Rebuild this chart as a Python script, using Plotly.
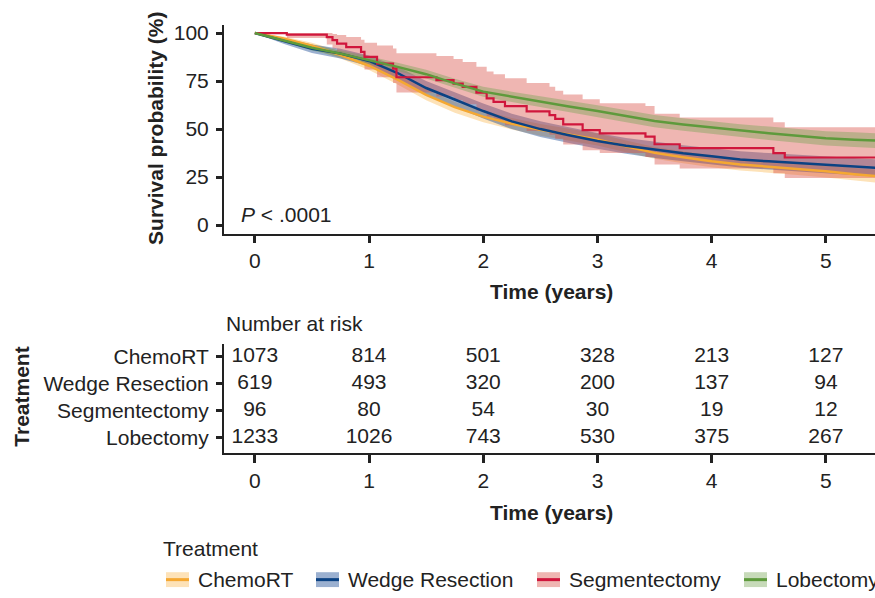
import plotly.graph_objects as go

# ---- survival estimates (%), read at quarter-year times ----
t_grid = [0, 0.25, 0.5, 0.75, 1, 1.25, 1.5, 1.75, 2, 2.25, 2.5, 2.75, 3,
          3.25, 3.5, 3.75, 4, 4.25, 4.5, 4.75, 5, 5.25, 5.5]

chemo_surv = [100, 97.2, 93.4, 88.6, 83.0, 75.8, 67.8, 61.4, 56.5, 52.8, 49.6, 47.2,
              44.6, 41.0, 37.6, 35.3, 33.2, 31.6, 30.5, 29.2, 28.0, 26.5, 25.2]
chemo_upper = [100, 98.2, 94.9, 90.5, 85.2, 78.4, 70.6, 64.3, 59.5, 55.8, 52.7, 50.3,
               47.7, 44.1, 40.7, 38.4, 36.3, 34.7, 33.6, 32.3, 31.2, 29.8, 28.6]
chemo_lower = [100, 96.2, 91.9, 86.7, 80.8, 73.2, 65.0, 58.5, 53.5, 49.8, 46.5, 44.1,
               41.5, 37.9, 34.5, 32.2, 30.1, 28.5, 27.4, 26.1, 24.8, 23.2, 21.8]

wedge_surv = [100, 96.0, 91.8, 89.3, 85.5, 79.2, 71.4, 65.4, 59.4, 54.0, 50.0, 46.8,
              43.8, 41.3, 39.2, 37.4, 35.8, 34.2, 33.2, 32.3, 31.4, 30.4, 29.6]
wedge_upper = [100, 97.5, 94.0, 91.8, 88.3, 82.4, 75.0, 69.2, 63.3, 58.0, 54.1, 50.9,
               47.9, 45.4, 43.4, 41.6, 40.0, 38.4, 37.5, 36.6, 35.7, 34.8, 34.1]
wedge_lower = [100, 94.5, 89.6, 86.8, 82.7, 76.0, 67.8, 61.6, 55.5, 50.0, 45.9, 42.7,
               39.7, 37.2, 35.0, 33.2, 31.6, 30.0, 28.9, 28.0, 27.1, 26.0, 25.1]

lobe_surv = [100, 96.3, 92.4, 89.3, 86.0, 82.4, 78.6, 73.8, 69.5, 66.8, 64.2, 61.8,
             59.4, 56.8, 54.2, 52.4, 50.8, 49.1, 47.8, 46.5, 45.2, 44.5, 43.8]
lobe_upper = [100, 97.3, 93.9, 91.0, 87.9, 84.5, 80.9, 76.2, 72.1, 69.5, 67.0, 64.7,
              62.4, 59.9, 57.4, 55.7, 54.1, 52.5, 51.3, 50.1, 48.9, 48.3, 47.7]
lobe_lower = [100, 95.3, 90.9, 87.6, 84.1, 80.3, 76.3, 71.4, 66.9, 64.1, 61.4, 58.9,
              56.4, 53.7, 51.0, 49.1, 47.5, 45.7, 44.3, 42.9, 41.5, 40.7, 39.9]

# Segmentectomy is a small group: its event times are drawn as steps
seg_time = [0, 0.28, 0.63, 0.68, 0.72, 0.80, 0.93, 0.96, 1.07, 1.21, 1.24, 1.59, 1.74,
            1.82, 1.94, 2.03, 2.09, 2.19, 2.38, 2.58, 2.63, 2.70, 2.87, 3.02, 3.42,
            3.50, 3.72, 4.54, 4.64, 5.5]
seg_surv = [100, 99.2, 97.9, 96.3, 94.5, 92.7, 90.2, 87.6, 84.1, 81.5, 77.0, 75.5, 73.7,
            72.0, 69.0, 66.0, 64.2, 62.0, 59.2, 57.3, 55.3, 52.5, 49.5, 47.8, 46.1,
            42.1, 40.1, 37.5, 35.2, 35.2]
seg_upper = [100, 100, 100, 99.5, 99.0, 98.0, 96.5, 95.0, 93.5, 92.0, 89.5, 88.0, 86.5,
             85.0, 82.5, 80.0, 78.5, 76.5, 74.0, 72.0, 70.0, 68.0, 65.5, 63.5, 62.0,
             58.0, 56.0, 53.5, 51.0, 51.0]
seg_lower = [100, 97.5, 94.0, 92.0, 89.5, 87.0, 84.0, 81.0, 77.0, 74.0, 69.0, 67.0, 65.0,
             63.0, 59.5, 56.5, 54.5, 52.0, 49.0, 47.0, 45.0, 42.0, 39.0, 37.5, 35.5,
             31.5, 29.5, 27.0, 24.5, 24.5]

# ---- number at risk ----
groups = ["ChemoRT", "Wedge Resection", "Segmentectomy", "Lobectomy"]
risk_times = [0, 1, 2, 3, 4, 5]
risk_chemo = [1073, 814, 501, 328, 213, 127]
risk_wedge = [619, 493, 320, 200, 137, 94]
risk_seg = [96, 80, 54, 30, 19, 12]
risk_lobe = [1233, 1026, 743, 530, 375, 267]

line_colors = ["#F5A832", "#0B4283", "#D0163C", "#5E9A3C"]
band_colors = ["rgba(250,182,77,0.4)", "rgba(5,58,138,0.4)",
               "rgba(215,72,62,0.4)", "rgba(115,162,80,0.4)"]
legend_fill = ["#FDE2B8", "#9BB0D0", "#EFB6B2", "#C7DAB9"]

FONT = "Liberation Sans, Arial, Helvetica, sans-serif"
FS = 21
INK = "#222222"
W, H = 875, 598


def px(x):
    return x / W


def py(y):
    return (H - y) / H


series = [
    (t_grid, chemo_surv, chemo_upper, chemo_lower, "linear"),
    (t_grid, wedge_surv, wedge_upper, wedge_lower, "linear"),
    (seg_time, seg_surv, seg_upper, seg_lower, "hv"),
    (t_grid, lobe_surv, lobe_upper, lobe_lower, "linear"),
]

fig = go.Figure()

# confidence bands
for i, (t, s, up, lo, shape) in enumerate(series):
    fig.add_trace(go.Scatter(x=t, y=up, mode="lines", line=dict(width=0, shape=shape),
                             showlegend=False, hoverinfo="skip", xaxis="x", yaxis="y"))
    fig.add_trace(go.Scatter(x=t, y=lo, mode="lines", line=dict(width=0, shape=shape),
                             fill="tonexty", fillcolor=band_colors[i],
                             showlegend=False, hoverinfo="skip", xaxis="x", yaxis="y"))

# survival curves
for i, (t, s, up, lo, shape) in enumerate(series):
    fig.add_trace(go.Scatter(x=t, y=s, mode="lines", name=groups[i],
                             line=dict(color=line_colors[i], width=2.5 if i != 2 else 2.2,
                                       shape=shape),
                             showlegend=False, xaxis="x", yaxis="y"))

# risk table
risk_rows = [risk_chemo, risk_wedge, risk_seg, risk_lobe]
for r, vals in enumerate(risk_rows):
    fig.add_trace(go.Scatter(x=risk_times, y=[r] * len(risk_times), mode="text",
                             text=[str(v) for v in vals], textposition="middle center",
                             textfont=dict(family=FONT, size=FS, color=INK),
                             showlegend=False, hoverinfo="skip", xaxis="x2", yaxis="y2"))

axis_common = dict(showline=True, linecolor=INK, linewidth=2, ticks="outside",
                   tickcolor=INK, tickwidth=2.5, showgrid=False, zeroline=False,
                   tickfont=dict(family=FONT, size=FS, color=INK))

x_dom = [px(224), 1.0]
x_range = [-0.27, 5.43]

fig.update_layout(
    width=W, height=H,
    margin=dict(l=0, r=0, t=0, b=0),
    paper_bgcolor="white", plot_bgcolor="white",
    font=dict(family=FONT, color=INK),
    xaxis=dict(domain=x_dom, range=x_range, tickvals=risk_times, ticklen=7,
               anchor="y", **axis_common),
    yaxis=dict(domain=[py(233), py(22)], range=[-4.66, 104.3],
               tickvals=[0, 25, 50, 75, 100], ticklen=6, ticklabelstandoff=3,
               anchor="x", **axis_common),
    xaxis2=dict(domain=x_dom, range=x_range, tickvals=risk_times, ticklen=8,
                anchor="y2", **axis_common),
    yaxis2=dict(domain=[py(454), py(344)], range=[3.59, -0.48],
                tickvals=[0, 1, 2, 3], ticktext=groups, ticklen=6,
                ticklabelstandoff=3, anchor="x2", **axis_common),
)

ann = []


def label(text, x, y, xanchor="center", size=FS, angle=0):
    ann.append(dict(text=text, x=px(x), y=py(y), xref="paper", yref="paper",
                    xanchor=xanchor, yanchor="middle", showarrow=False, textangle=angle,
                    font=dict(family=FONT, size=size, color=INK)))


label("<b>Survival probability (%)</b>", 156, 127, angle=-90)
label("<b>Time (years)</b>", 551, 291)
label("<i>P</i> < .0001", 239, 213, xanchor="left")
label("Number at risk", 224, 323, xanchor="left")
label("<b>Treatment</b>", 22, 397, angle=-90)
label("<b>Time (years)</b>", 551, 514)
label("Treatment", 161, 550, xanchor="left")

# legend: band swatch with the curve colour across the middle
legend_sym_x = [166, 316, 537, 744]
legend_txt_x = [196, 346, 567, 774]
shapes = []
for i in range(4):
    x0, x1 = legend_sym_x[i], legend_sym_x[i] + 23
    shapes.append(dict(type="rect", xref="paper", yref="paper",
                       x0=px(x0), x1=px(x1), y0=py(589), y1=py(574),
                       fillcolor=legend_fill[i], line=dict(width=0)))
    shapes.append(dict(type="line", xref="paper", yref="paper",
                       x0=px(x0), x1=px(x1), y0=py(581.5), y1=py(581.5),
                       line=dict(color=line_colors[i], width=3)))
    label(groups[i], legend_txt_x[i], 581, xanchor="left")

fig.update_layout(annotations=ann, shapes=shapes)

fig.write_html("out.html")
